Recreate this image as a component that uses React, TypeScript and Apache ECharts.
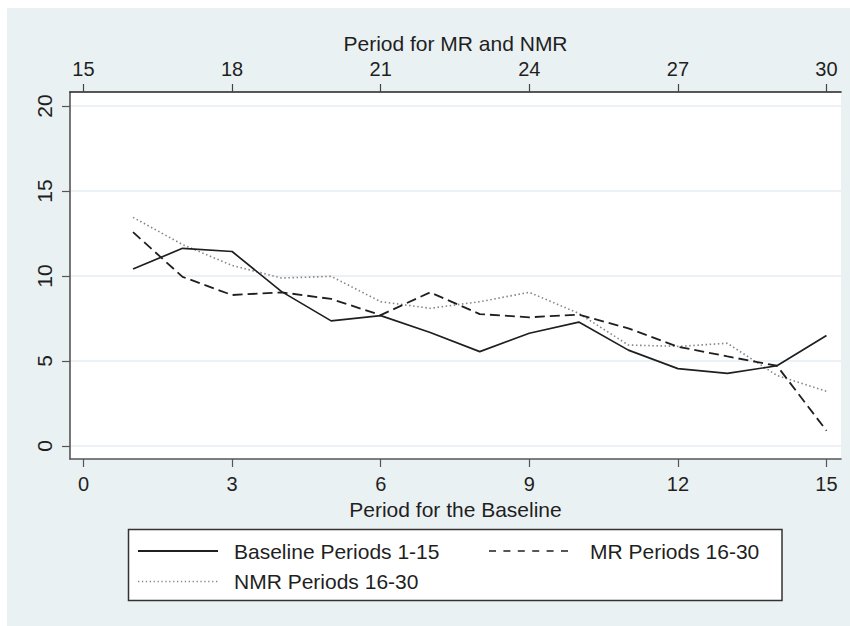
import React, { useEffect, useRef } from "react";
import * as echarts from "echarts";

// Period numbers
const baselinePeriods = [1, 2, 3, 4, 5, 6, 7, 8, 9, 10, 11, 12, 13, 14, 15];
const treatmentPeriods = [16, 17, 18, 19, 20, 21, 22, 23, 24, 25, 26, 27, 28, 29, 30];

// Series values
const baselineValues = [10.41, 11.63, 11.44, 9.08, 7.36, 7.67, 6.68, 5.55, 6.63, 7.29, 5.64, 4.55, 4.27, 4.72, 6.5];
const mrValues = [12.58, 9.95, 8.88, 9.04, 8.65, 7.7, 9.04, 7.76, 7.57, 7.73, 6.92, 5.84, 5.27, 4.72, 0.9];
const nmrValues = [13.45, 11.85, 10.62, 9.88, 9.98, 8.49, 8.1, 8.49, 9.04, 7.8, 5.94, 5.86, 6.04, 4.15, 3.22];

// Tick labels
const baselineTicks = [0, 3, 6, 9, 12, 15];
const treatmentTicks = [15, 18, 21, 24, 27, 30];
const yTicks = [0, 5, 10, 15, 20];

const FONT = "'Liberation Sans', Arial, Helvetica, sans-serif";
const INK = "#1f1f1f";
const PANEL = "#eaf1f3";

export default function App() {
  const ref = useRef<HTMLDivElement>(null);

  useEffect(() => {
    if (!ref.current) return;
    const chart = echarts.init(ref.current, undefined, { renderer: "svg" });

    const legendText = (text: string, x: number, y: number) => ({
      type: "text",
      x,
      y,
      style: {
        text,
        fontSize: 21,
        fontFamily: FONT,
        fill: INK,
        align: "left",
        verticalAlign: "middle",
        textAlign: "left",
        textVerticalAlign: "middle",
      },
    });

    const option: any = {
      animation: false,
      backgroundColor: "transparent",
      textStyle: { fontFamily: FONT },
      grid: {
        left: 70,
        top: 92,
        right: 9,
        bottom: 167,
        show: true,
        backgroundColor: "#ffffff",
        borderWidth: 0,
      },
      xAxis: [
        {
          type: "value",
          position: "bottom",
          min: -0.2725,
          max: 15.293,
          name: "Period for the Baseline",
          nameLocation: "middle",
          nameGap: 36,
          nameTextStyle: { fontSize: 21, color: INK, fontFamily: FONT },
          axisLine: { show: true, onZero: false, lineStyle: { color: "#555", width: 1.6 } },
          axisTick: { show: true, customValues: baselineTicks, length: 8, lineStyle: { color: "#555", width: 1.2 } },
          axisLabel: { customValues: baselineTicks, fontSize: 20, color: INK, margin: 15, fontFamily: FONT },
          splitLine: { show: false },
        },
        {
          type: "value",
          position: "top",
          min: 14.7275,
          max: 30.293,
          name: "Period for MR and NMR",
          nameLocation: "middle",
          nameGap: 35,
          nameTextStyle: { fontSize: 21, color: INK, fontFamily: FONT },
          axisLine: { show: true, onZero: false, lineStyle: { color: "#222", width: 1.6 } },
          axisTick: { show: true, customValues: treatmentTicks, length: 8, lineStyle: { color: "#444", width: 1.2 } },
          axisLabel: { customValues: treatmentTicks, fontSize: 20, color: INK, margin: 13, fontFamily: FONT },
          splitLine: { show: false },
        },
      ],
      yAxis: {
        type: "value",
        min: -0.765,
        max: 20.824,
        axisLine: { show: true, onZero: false, lineStyle: { color: "#555", width: 1.6 } },
        axisTick: { show: true, customValues: yTicks, length: 8, lineStyle: { color: "#555", width: 1.2 } },
        axisLabel: { customValues: yTicks, rotate: 90, fontSize: 21, color: INK, margin: 15, fontFamily: FONT },
        splitLine: { show: true, lineStyle: { color: "#e4edf0", width: 1.5 } },
      },
      series: [
        {
          name: "Baseline Periods 1-15",
          type: "line",
          xAxisIndex: 0,
          symbol: "none",
          data: baselinePeriods.map((p, i) => [p, baselineValues[i]]),
          lineStyle: { color: INK, width: 1.7, type: "solid" },
          z: 4,
        },
        {
          name: "MR Periods 16-30",
          type: "line",
          xAxisIndex: 1,
          symbol: "none",
          data: treatmentPeriods.map((p, i) => [p, mrValues[i]]),
          lineStyle: { color: INK, width: 1.8, type: [10, 5] },
          z: 3,
        },
        {
          name: "NMR Periods 16-30",
          type: "line",
          xAxisIndex: 1,
          symbol: "none",
          data: treatmentPeriods.map((p, i) => [p, nmrValues[i]]),
          lineStyle: { color: "#858585", width: 1.6, type: [1.5, 2.6], cap: "butt" },
          z: 2,
        },
      ],
      graphic: [
        {
          type: "rect",
          shape: { x: 128.5, y: 529.5, width: 653.5, height: 71 },
          style: { fill: "#ffffff", stroke: "#333", lineWidth: 1.5 },
        },
        {
          type: "line",
          shape: { x1: 138, y1: 551, x2: 218, y2: 551 },
          style: { stroke: INK, lineWidth: 1.8 },
        },
        legendText("Baseline Periods 1-15", 234, 551),
        {
          type: "line",
          shape: { x1: 489, y1: 551, x2: 572, y2: 551 },
          style: { stroke: INK, lineWidth: 1.6, lineDash: [7, 7.4] },
        },
        legendText("MR Periods 16-30", 590, 551),
        {
          type: "line",
          shape: { x1: 138, y1: 581.5, x2: 218, y2: 581.5 },
          style: { stroke: "#858585", lineWidth: 1.4, lineDash: [1.3, 2.6] },
        },
        legendText("NMR Periods 16-30", 234, 581.5),
      ],
    };

    chart.setOption(option);
    return () => chart.dispose();
  }, []);

  return (
    <div style={{ position: "fixed", left: 0, top: 0, width: 850, height: 626, background: "#ffffff" }}>
      <div style={{ position: "absolute", left: 7, top: 8, width: 843, height: 618, background: PANEL }} />
      <div ref={ref} style={{ position: "absolute", left: 0, top: 0, width: 850, height: 626 }} />
    </div>
  );
}
